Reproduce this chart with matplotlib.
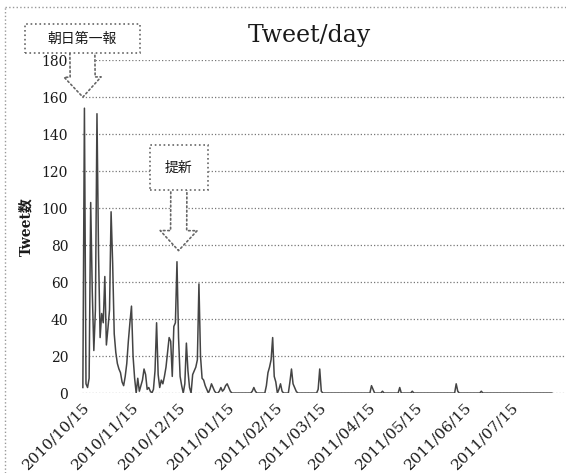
import matplotlib
matplotlib.use('Agg')
import matplotlib.pyplot as plt
import matplotlib.dates as mdates
from matplotlib.lines import Line2D
from matplotlib.patches import Rectangle
import pandas as pd

# daily tweet counts starting 2010/10/15
start = '2010-10-15'
tweets = [
    3, 154, 5, 3, 8, 103, 55, 23, 45, 151,
    75, 30, 43, 38, 63, 26, 35, 45, 98, 70,
    32, 22, 16, 13, 11, 6, 4, 9, 16, 28,
    38, 47, 20, 8, 0, 8, 1, 4, 7, 13,
    10, 2, 3, 1, 0, 2, 12, 38, 10, 3,
    7, 5, 9, 14, 22, 30, 28, 9, 36, 38,
    71, 30, 9, 4, 0, 5, 27, 12, 3, 0,
    10, 12, 14, 18, 59, 20, 8, 7, 4, 2,
    0, 2, 5, 3, 1, 0, 0, 1, 3, 1,
    2, 4, 5, 3, 1, 0, 0, 0, 0, 0,
    0, 0, 0, 0, 0, 0, 0, 0, 1, 3,
    1, 0, 0, 0, 0, 0, 0, 4, 11, 14,
    18, 30, 9, 6, 0, 2, 5, 1, 0, 0,
    0, 0, 6, 13, 5, 3, 1, 0, 0, 0,
    0, 0, 0, 0, 0, 0, 0, 0, 0, 0,
    2, 13, 1, 0, 0, 0, 0, 0, 0, 0,
    0, 0, 0, 0, 0, 0, 0, 0, 0, 0,
    0, 0, 0, 0, 0, 0, 0, 0, 0, 0,
    0, 0, 0, 0, 4, 2, 0, 0, 0, 0,
    0, 1, 0, 0, 0, 0, 0, 0, 0, 0,
    0, 0, 3, 0, 0, 0, 0, 0, 0, 0,
    1, 0, 0, 0, 0, 0, 0, 0, 0, 0,
    0, 0, 0, 0, 0, 0, 0, 0, 0, 0,
    0, 0, 0, 0, 0, 0, 0, 0, 5, 1,
    0, 0, 0, 0, 0, 0, 0, 0, 0, 0,
    0, 0, 0, 0, 1, 0, 0, 0, 0, 0,
    0, 0, 0, 0, 0, 0, 0, 0, 0, 0,
    0, 0, 0, 0, 0, 0, 0, 0, 0, 0,
    0, 0, 0, 0, 0, 0, 0, 0, 0, 0,
    0, 0, 0, 0, 0, 0, 0, 0, 0, 0,
]
tick_dates = ['2010-10-15', '2010-11-15', '2010-12-15', '2011-01-15', '2011-02-15',
              '2011-03-15', '2011-04-15', '2011-05-15', '2011-06-15', '2011-07-15']
yticks = [0, 20, 40, 60, 80, 100, 120, 140, 160, 180]
notes = ['朝日第一報', '提新']
note_dates = ['2010-10-15', '2010-12-15']
note_vals = [160, 77]

dates = pd.date_range(start, periods=len(tweets), freq='D')
serif = 'DejaVu Serif'
cjk = ['DejaVu Serif', 'Noto Sans CJK JP']
ink = '#1a1a1a'
edge = '#666666'

fig = plt.figure(figsize=(5.66, 4.73), dpi=100)
ax = fig.add_axes([0.145, 0.169, 0.855, 0.704])

ax.plot(dates, tweets, color='#444444', lw=1.1)

ax.set_ylim(0, 180)
ax.set_yticks(yticks)
ax.set_xlim(pd.Timestamp(start) - pd.Timedelta(days=0.5),
            pd.Timestamp(start) + pd.Timedelta(days=308))
ax.set_xticks(pd.to_datetime(tick_dates))
ax.xaxis.set_major_formatter(mdates.DateFormatter('%Y/%m/%d'))
ax.grid(axis='y', linestyle=':', color='#777777', lw=0.9)
ax.set_axisbelow(True)
for s in ax.spines.values():
    s.set_visible(False)
ax.tick_params(length=0, colors=ink)
for lab in ax.get_yticklabels():
    lab.set_fontfamily(serif)
    lab.set_fontsize(10)
for lab in ax.get_xticklabels():
    lab.set_fontfamily(serif)
    lab.set_fontsize(11)
    lab.set_rotation(45)
    lab.set_ha('right')
    lab.set_rotation_mode('anchor')
ax.tick_params(axis='y', pad=10)
ax.tick_params(axis='x', pad=5)

ax.set_ylabel('Tweet数', family=cjk, fontweight='bold', fontsize=10, labelpad=6, color=ink)

fig.text(0.546, 0.926, 'Tweet/day', family=serif, fontsize=17, ha='center', va='center',
         color=ink)

# callout boxes (figure fraction: x0, y0, w, h) with block arrows down to the data
boxes = [(0.044, 0.888, 0.203, 0.061), (0.265, 0.598, 0.102, 0.095)]
arrow_styles = ['simple,head_length=0.72,head_width=1.33,tail_width=0.9',
                'simple,head_length=0.72,head_width=1.33,tail_width=0.58']
for txt, d, v, (bx, by, bw, bh), st in zip(notes, note_dates, note_vals, boxes, arrow_styles):
    ax.annotate('', xy=(pd.Timestamp(d), v), xycoords='data',
                xytext=(bx + bw / 2, by + 0.004), textcoords='figure fraction',
                annotation_clip=False,
                arrowprops=dict(arrowstyle=st, fc='white', ec=edge, ls=':', lw=1.2,
                                mutation_scale=20, shrinkA=0, shrinkB=0))
    fig.add_artist(Rectangle((bx, by), bw, bh, transform=fig.transFigure,
                             fc='white', ec=edge, ls=':', lw=1.2, zorder=5))
    fig.text(bx + bw / 2, by + bh / 2, txt, family=['Noto Sans CJK JP'], fontsize=10,
             ha='center', va='center', color=ink, zorder=6)

# dotted outer frame (left and top edges visible)
fig.add_artist(Line2D([0.009, 0.009], [0, 0.985], transform=fig.transFigure,
                      color='#999999', ls=':', lw=1))
fig.add_artist(Line2D([0.009, 1], [0.985, 0.985], transform=fig.transFigure,
                      color='#999999', ls=':', lw=1))

fig.savefig('out.png', dpi=100)
